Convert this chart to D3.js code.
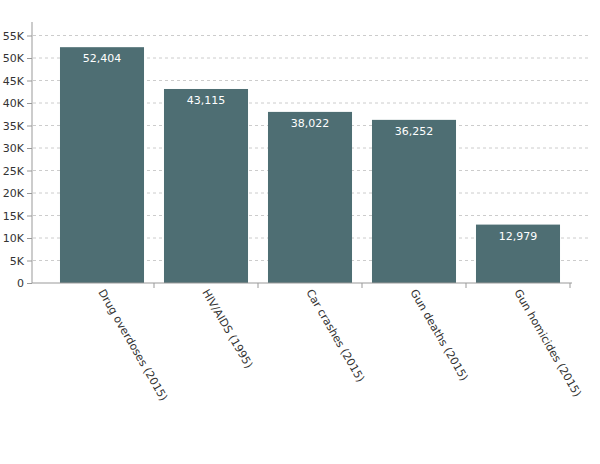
<!DOCTYPE html><html><head><meta charset="utf-8"><script src="https://cdn.jsdelivr.net/npm/d3@7"></script>
<style>body{margin:0;background:#fff}text{font-family:"DejaVu Sans",sans-serif}</style></head><body><svg id="c" width="600" height="464"></svg><script>
const categories=["Drug overdoses (2015)","HIV/AIDS (1995)","Car crashes (2015)","Gun deaths (2015)","Gun homicides (2015)"];
const values=[52404,43115,38022,36252,12979];
const yTicks=[0,5000,10000,15000,20000,25000,30000,35000,40000,45000,50000,55000];
const svg=d3.select("#c");
const x=d3.scaleBand().domain(categories).range([50,570]).paddingInner(0.192).paddingOuter(0.096);
const y=d3.scaleLinear().domain([0,58000]).range([283,22]);
const fmt=d3.format(",");
// grid
svg.append("g").selectAll("line").data(yTicks.slice(1)).join("line")
 .attr("x1",33).attr("x2",588).attr("y1",d=>y(d)).attr("y2",d=>y(d))
 .attr("stroke","#ccc").attr("stroke-dasharray","3,3");
// y axis
const ya=svg.append("g").attr("transform","translate(32,0)").call(d3.axisLeft(y).tickValues(yTicks).tickSize(5).tickFormat(d=>d===0?"0":(d/1000)+"K"));
ya.select(".domain").attr("stroke","#999").attr("d","M0,22V283");
ya.selectAll(".tick line").attr("stroke","#999");
ya.selectAll("text").attr("fill","#333").style("font-size","11px");
// bars
svg.append("g").selectAll("rect").data(values).join("rect")
 .attr("x",(d,i)=>x(categories[i])).attr("width",x.bandwidth())
 .attr("y",d=>y(d)).attr("height",d=>y(0)-y(d)).attr("fill","#4e6e73");
svg.append("g").selectAll("text").data(values).join("text")
 .attr("x",(d,i)=>x(categories[i])+x.bandwidth()/2).attr("y",d=>y(d)+15)
 .attr("text-anchor","middle").attr("fill","#fff").style("font-size","11px").text(d=>fmt(d));
// x axis
svg.append("line").attr("x1",32).attr("x2",572).attr("y1",283).attr("y2",283).attr("stroke","#999");
const bounds=categories.map(c=>x(c)+x.bandwidth()+x.step()*x.paddingInner()/2);
svg.append("g").selectAll("line").data(bounds).join("line")
 .attr("x1",d=>d).attr("x2",d=>d).attr("y1",283).attr("y2",288).attr("stroke","#999");
svg.append("g").selectAll("text").data(categories).join("text")
 .attr("transform",d=>`translate(${x(d)+x.bandwidth()/2-4},292) rotate(60)`)
 .attr("fill","#333").style("font-size","11px").text(d=>d);
</script></body></html>
